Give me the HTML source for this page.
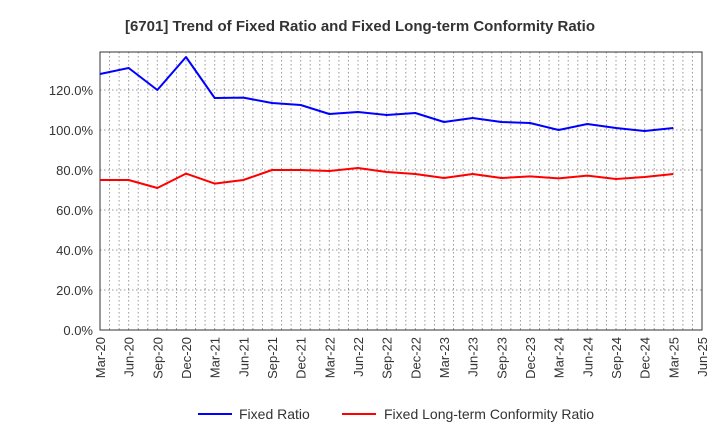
<!DOCTYPE html>
<html><head><meta charset="utf-8"><style>
body{margin:0;background:#fff;font-family:"Liberation Sans",sans-serif;}
</style></head><body>
<svg id="chart" width="720" height="440" xmlns="http://www.w3.org/2000/svg">
<text x="360" y="31" text-anchor="middle" font-size="15" font-weight="bold" fill="#333">[6701]  Trend of Fixed Ratio and Fixed Long-term Conformity Ratio</text>
<g id="grid"></g><g id="axes"></g><g id="series"></g>
<g>
<line x1="198" y1="414" x2="232" y2="414" stroke="#0000ff" stroke-width="2"/>
<text x="239" y="419" font-size="14" fill="#333">Fixed Ratio</text>
<line x1="342" y1="414" x2="376" y2="414" stroke="#ff0000" stroke-width="2"/>
<text x="384" y="419" font-size="14" fill="#333">Fixed Long-term Conformity Ratio</text>
</g>
</svg>
<script>
const categories=["Mar-20","Jun-20","Sep-20","Dec-20","Mar-21","Jun-21","Sep-21","Dec-21","Mar-22","Jun-22","Sep-22","Dec-22","Mar-23","Jun-23","Sep-23","Dec-23","Mar-24","Jun-24","Sep-24","Dec-24","Mar-25","Jun-25"];
const fixedRatio=[128,131,120,136.5,116,116.2,113.5,112.5,108,109,107.5,108.5,104,106,104,103.5,100,103,101,99.5,101];
const conformityRatio=[75,75,71,78.2,73.2,75,80,80,79.5,81,79,78,76,78,76,76.8,75.8,77.2,75.5,76.5,78];
const yTicks=[0,20,40,60,80,100,120];
const ns="http://www.w3.org/2000/svg";
const L=100,R=702,T=52,B=330,yMax=139;
const x=i=>L+i*(R-L)/(categories.length-1);
const y=v=>B-v*(B-T)/yMax;
function mk(tag,attrs,parent){const e=document.createElementNS(ns,tag);for(const k in attrs)e.setAttribute(k,attrs[k]);parent.appendChild(e);return e;}
const grid=document.getElementById('grid'),axes=document.getElementById('axes'),series=document.getElementById('series');
for(let m=1;m<(categories.length-1)*3;m++){const xx=L+m*(R-L)/((categories.length-1)*3);
 const g=mk('line',{x1:xx,x2:xx,y1:T,y2:B,stroke:'#999','stroke-dasharray':'1.5,2.5','stroke-width':1},grid);
 
 }
yTicks.forEach(v=>{if(v>0){const g=mk('line',{x1:L,x2:R,y1:y(v),y2:y(v),stroke:'#999','stroke-dasharray':'1.5,2.5','stroke-width':1},grid);
 
 }
 const t=mk('text',{x:L-7,y:y(v)+5,'text-anchor':'end','font-size':13,fill:'#333'},axes);t.textContent=v.toFixed(1)+'%';
 
 });
const f=mk('rect',{x:L,y:T,width:R-L,height:B-T,fill:'none',stroke:'#333','stroke-width':1},axes);


categories.forEach((c,i)=>{const t=mk('text',{x:0,y:0,'text-anchor':'end','font-size':13,fill:'#333',transform:`translate(${x(i)+5},${B+7}) rotate(-90)`},axes);t.textContent=c;
 
 });
function line(vals,color,name){const p=mk('polyline',{points:vals.map((v,i)=>x(i)+','+y(v)).join(' '),fill:'none',stroke:color,'stroke-width':2,'stroke-linejoin':'round'},series);
 
 }
line(fixedRatio,'#0000ff','fixed-ratio-line');
line(conformityRatio,'#ff0000','conformity-ratio-line');
</script>
</body></html>
